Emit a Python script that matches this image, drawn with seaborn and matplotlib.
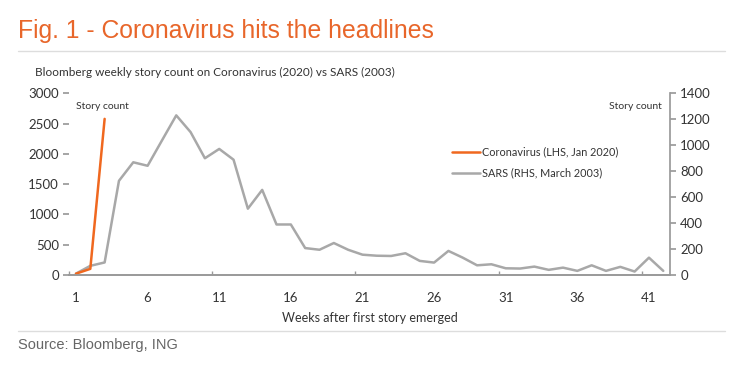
import numpy as np
import pandas as pd
import matplotlib
matplotlib.use("Agg")
import matplotlib.pyplot as plt
import seaborn as sns
from matplotlib.lines import Line2D

# Bloomberg weekly story counts
weeks_sars = list(range(1, 43))
sars_counts = [10, 70, 96, 726, 869, 842, 1037, 1231, 1102, 900,
               972, 889, 511, 656, 389, 389, 207, 194, 246, 194,
               156, 148, 146, 167, 108, 95, 185, 133, 74, 82,
               51, 49, 64, 39, 56, 31, 74, 31, 62, 26,
               133, 31]
weeks_covid = [1, 2, 3]
covid_counts = [20, 100, 2580]

x_ticks = [1, 6, 11, 16, 21, 26, 31, 36, 41]
left_ticks = [0, 500, 1000, 1500, 2000, 2500, 3000]
right_ticks = [0, 200, 400, 600, 800, 1000, 1200, 1400]

ORANGE = "#F0681F"
GREY = "#A8A8A8"
TEXT = "#333333"

sns.set_theme(style="white")
plt.rcParams["font.family"] = ["Lato", "DejaVu Sans"]

df_sars = pd.DataFrame({"week": weeks_sars, "count": sars_counts})
df_covid = pd.DataFrame({"week": weeks_covid, "count": covid_counts})

fig = plt.figure(figsize=(7.4, 3.68), dpi=100)
ax = fig.add_axes([0.093, 0.253, 0.813, 0.493])
ax2 = ax.twinx()

sns.lineplot(data=df_sars, x="week", y="count", ax=ax2, color=GREY, linewidth=1.8)
sns.lineplot(data=df_covid, x="week", y="count", ax=ax, color=ORANGE, linewidth=1.8)
ax.set_zorder(ax2.get_zorder() + 1)
ax.patch.set_visible(False)

ax.set_xlim(0.5, 42.5)
ax.set_ylim(0, 3000)
ax2.set_ylim(0, 1400)
ax.set_xticks(x_ticks)
ax.set_xticks([0.5, 10.5, 20.5, 30.5, 40.5], minor=True)
ax.set_yticks(left_ticks)
ax2.set_yticks(right_ticks)

for a in (ax, ax2):
    a.set_ylabel("")
    a.spines["top"].set_visible(False)
    a.spines["left"].set_visible(False)
    a.spines["right"].set_visible(False)
    a.spines["bottom"].set_color("#9a9a9a")
    a.grid(False)
ax2.spines["right"].set_visible(True)
ax2.spines["right"].set_color("#9a9a9a")

ax.tick_params(axis="y", left=True, length=4, color="#9a9a9a", labelsize=9.5, labelcolor=TEXT, pad=3)
ax.tick_params(axis="x", which="major", bottom=False, labelsize=9.5, labelcolor=TEXT, pad=6)
ax.tick_params(axis="x", which="minor", bottom=True, direction="in", length=3, color="#9a9a9a")
ax2.tick_params(axis="y", right=True, length=4, color="#9a9a9a", labelsize=9.5, labelcolor=TEXT, pad=3)

ax.set_xlabel("Weeks after first story emerged", fontsize=9, color=TEXT, labelpad=6)

ax.text(0.012, 0.93, "Story count", transform=ax.transAxes, fontsize=7.5, color=TEXT, ha="left", va="center")
ax.text(0.985, 0.93, "Story count", transform=ax.transAxes, fontsize=7.5, color=TEXT, ha="right", va="center")

handles = [Line2D([0], [0], color=ORANGE, lw=1.8), Line2D([0], [0], color=GREY, lw=1.8)]
ax.legend(handles, ["Coronavirus (LHS, Jan 2020)", "SARS (RHS, March 2003)"],
          loc="upper left", bbox_to_anchor=(0.62, 0.76), frameon=False,
          fontsize=7.8, labelcolor=TEXT, handlelength=2.6, handletextpad=0.2, labelspacing=0.9)

fig.text(0.024, 0.915, "Fig. 1 - Coronavirus hits the headlines", fontsize=17.8,
         color="#E8662A", family=["Liberation Sans", "DejaVu Sans"], va="center")
fig.add_artist(Line2D([0.024, 0.98], [0.861, 0.861], color="#dddddd", lw=1))
fig.text(0.047, 0.804, "Bloomberg weekly story count on Coronavirus (2020) vs SARS (2003)",
         fontsize=8.5, color=TEXT, va="center")
fig.add_artist(Line2D([0.024, 0.98], [0.1, 0.1], color="#dddddd", lw=1))
fig.text(0.024, 0.062, "Source: Bloomberg, ING", fontsize=10.5, color="#666666",
         family=["Liberation Sans", "DejaVu Sans"], va="center")

fig.savefig("out.png", dpi=100, facecolor="white")
